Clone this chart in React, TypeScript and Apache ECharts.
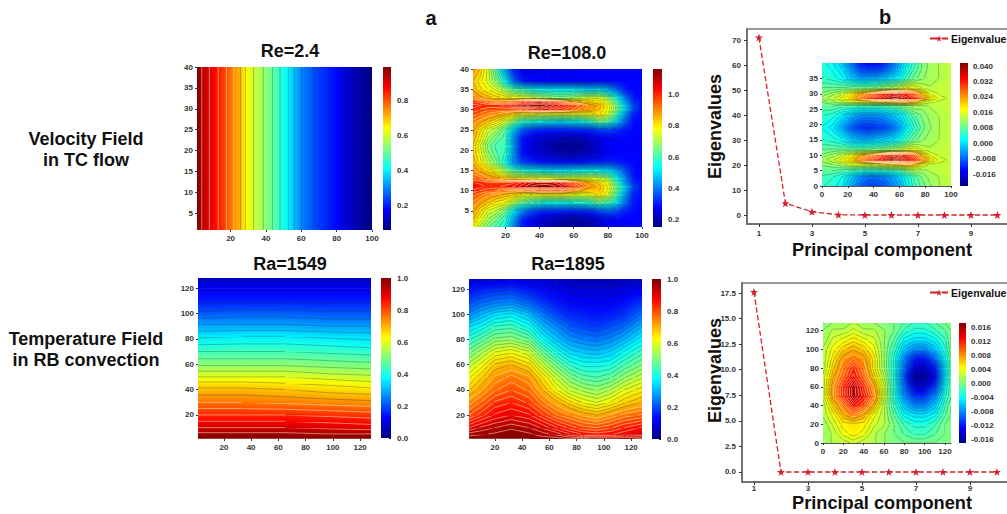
import React, { useEffect, useRef } from "react";
import * as echarts from "echarts";

const FONT = "'Liberation Sans', Arial, sans-serif";

// ---------- data ----------
const components = [1, 2, 3, 4, 5, 6, 7, 8, 9, 10];
const tcEigenvalues = [71, 4.7, 1.3, 0.1, 0, 0, 0, 0, 0, 0];
const rbEigenvalues = [17.6, 0, 0, 0, 0, 0, 0, 0, 0, 0];

const re24X = [1, 5, 11, 16, 21, 25, 29, 35, 42, 47, 52, 56, 61, 70, 80, 90, 100];
const re24Y = [1, 40];
const re24Profile = [99, 93, 87, 82, 76, 71, 64, 58, 52, 46, 41, 35, 29, 23, 18, 11, 6];
const re24Rows = [re24Profile, re24Profile];

const re108X = [1, 5, 10, 15, 20, 25, 30, 35, 40, 45, 50, 55, 60, 65, 70, 75, 80, 85, 90, 95, 100];
const re108Y = [1, 3, 5, 7, 9, 10, 11, 12, 13, 15, 17, 19, 21, 23, 25, 27, 29, 30, 31, 32, 33, 35, 37, 40];
const re108Rows = [
  [78, 72, 65, 60, 55, 42, 30, 27, 23, 21, 19, 17, 17, 18, 20, 23, 26, 27, 28, 28, 28],
  [85, 78, 70, 65, 58, 45, 32, 28, 25, 23, 21, 20, 19, 20, 22, 25, 27, 28, 28, 28, 28],
  [88, 82, 75, 72, 65, 52, 42, 36, 33, 32, 32, 31, 31, 32, 33, 36, 38, 36, 31, 29, 28],
  [92, 88, 84, 80, 78, 70, 64, 60, 56, 54, 54, 54, 56, 56, 58, 64, 60, 52, 40, 30, 29],
  [96, 94, 90, 88, 86, 84, 80, 78, 80, 80, 80, 80, 78, 76, 78, 82, 76, 62, 44, 31, 29],
  [100, 98, 96, 95, 92, 92, 92, 94, 96, 96, 96, 94, 90, 86, 84, 84, 78, 64, 48, 33, 29],
  [103, 102, 100, 100, 102, 104, 108, 112, 114, 114, 112, 108, 100, 94, 88, 86, 78, 66, 50, 35, 29],
  [101, 100, 98, 98, 98, 100, 104, 108, 110, 110, 108, 102, 94, 90, 86, 82, 76, 60, 44, 32, 29],
  [96, 94, 90, 88, 84, 82, 80, 80, 78, 78, 76, 76, 76, 76, 76, 74, 70, 56, 42, 30, 28],
  [90, 86, 82, 76, 68, 60, 56, 54, 52, 50, 50, 50, 52, 52, 54, 52, 50, 44, 36, 29, 28],
  [86, 80, 72, 65, 55, 42, 34, 32, 30, 29, 29, 29, 29, 29, 30, 31, 32, 31, 29, 28, 28],
  [84, 78, 68, 62, 58, 42, 29, 26, 24, 22, 21, 20, 20, 21, 23, 25, 27, 28, 28, 28, 28],
  [84, 76, 66, 60, 60, 44, 29, 25, 22, 20, 18, 17, 17, 18, 21, 24, 27, 28, 28, 28, 28],
  [86, 80, 70, 64, 60, 42, 30, 26, 24, 23, 22, 21, 21, 22, 24, 26, 27, 28, 28, 28, 28],
  [88, 82, 74, 70, 62, 48, 37, 33, 31, 31, 31, 31, 31, 31, 32, 34, 35, 33, 30, 28, 28],
  [91, 88, 84, 80, 74, 66, 58, 56, 54, 52, 50, 50, 52, 54, 58, 66, 62, 50, 38, 29, 28],
  [97, 95, 92, 90, 88, 84, 82, 82, 80, 80, 80, 80, 80, 80, 80, 82, 76, 62, 44, 31, 29],
  [100, 98, 96, 96, 96, 96, 98, 102, 106, 104, 100, 98, 94, 90, 88, 84, 78, 66, 50, 35, 29],
  [102, 101, 100, 100, 102, 106, 110, 114, 114, 112, 108, 104, 98, 94, 88, 86, 78, 66, 50, 35, 29],
  [98, 96, 92, 90, 92, 94, 100, 104, 106, 102, 98, 92, 86, 84, 82, 80, 74, 60, 44, 32, 29],
  [92, 88, 85, 82, 80, 78, 76, 74, 72, 68, 66, 66, 68, 72, 74, 74, 68, 54, 40, 30, 28],
  [86, 82, 78, 74, 68, 62, 58, 54, 52, 52, 52, 52, 52, 50, 48, 50, 44, 38, 30, 28, 28],
  [84, 80, 74, 66, 54, 38, 30, 28, 28, 27, 27, 27, 27, 27, 27, 27, 28, 28, 28, 28, 28],
  [88, 84, 74, 60, 44, 30, 25, 25, 25, 26, 26, 27, 27, 28, 28, 28, 28, 28, 28, 28, 28],
];

const ra1549X = [1, 33, 65, 97, 128];
const ra1549Y = [1, 5, 10, 15, 20, 30, 40, 45, 50, 60, 70, 82, 90, 100, 110, 120, 128];
const ra1549Rows = [
  [100, 100, 100, 100, 100],
  [97, 97, 97, 96, 96],
  [92, 92, 92, 91, 90],
  [88, 88, 88, 87, 86],
  [84, 84, 84, 83, 82],
  [76, 76, 75, 74, 73],
  [69, 69, 68, 66, 65],
  [65, 65, 64, 63, 61],
  [60, 60, 60, 58, 57],
  [51, 51, 51, 50, 49],
  [44, 44, 44, 43, 42],
  [35, 36, 36, 35, 34],
  [29, 29, 29, 28, 28],
  [21, 22, 22, 21, 21],
  [15, 15, 15, 15, 15],
  [11, 11, 11, 11, 11],
  [7, 7, 7, 7, 7],
];

const ra1895X = [1, 10, 20, 32, 45, 55, 65, 75, 85, 95, 105, 115, 128];
const ra1895Y = [1, 5, 10, 20, 30, 40, 50, 60, 70, 80, 90, 100, 110, 120, 128];
const ra1895Rows = [
  [100, 100, 100, 100, 100, 99, 99, 98, 98, 97, 97, 97, 98],
  [96, 97, 98, 99, 98, 96, 94, 90, 87, 86, 87, 89, 90],
  [90, 93, 95, 97, 95, 92, 88, 84, 81, 80, 82, 85, 88],
  [80, 84, 88, 90, 88, 83, 78, 75, 72, 70, 73, 76, 78],
  [74, 78, 83, 85, 82, 76, 71, 66, 62, 60, 63, 67, 70],
  [67, 72, 77, 80, 77, 70, 63, 57, 54, 52, 55, 60, 64],
  [62, 67, 73, 76, 73, 65, 57, 50, 46, 45, 47, 52, 57],
  [56, 61, 68, 70, 66, 57, 49, 42, 39, 39, 40, 45, 50],
  [49, 54, 60, 62, 58, 48, 40, 34, 32, 31, 33, 38, 44],
  [42, 46, 51, 52, 48, 38, 32, 27, 25, 24, 26, 30, 37],
  [35, 38, 43, 44, 39, 31, 26, 21, 19, 18, 20, 23, 30],
  [26, 30, 34, 36, 31, 24, 19, 16, 15, 14, 15, 17, 23],
  [19, 22, 24, 25, 21, 17, 14, 12, 12, 11, 12, 13, 17],
  [13, 15, 16, 17, 14, 12, 10, 9, 8, 8, 8, 9, 11],
  [8, 9, 9, 10, 9, 8, 7, 6, 5, 5, 5, 6, 7],
];

const tcModeX = [0, 8, 16, 24, 30, 36, 42, 48, 54, 60, 66, 72, 78, 84, 92, 100];
const tcModeY = [0, 3, 5, 7, 8.5, 10, 12, 15, 19, 23, 26, 27.5, 28.5, 30, 32, 35, 38, 40];
const tcModeRows = [
  [5, 4, 2, -4, -8, -10, -10, -9, -6, -3, 2, 6, 9, 11, 13, 14],
  [6, 5, 3, -2, -5, -7, -7, -6, -4, -1, 3, 7, 10, 12, 13, 14],
  [8, 8, 7, 6, 5, 4, 4, 5, 6, 7, 10, 13, 12, 13, 14, 14],
  [10, 11, 13, 16, 17, 17, 18, 20, 21, 22, 24, 22, 17, 14, 14, 14],
  [12, 14, 17, 21, 26, 30, 34, 36, 40, 40, 36, 32, 26, 19, 15, 14],
  [10, 12, 14, 18, 22, 25, 28, 32, 36, 34, 33, 28, 22, 16, 14, 14],
  [8, 8, 8, 8, 8, 8, 9, 10, 12, 13, 16, 17, 14, 13, 14, 14],
  [5, 4, 2, -2, -3, -3, -2, -1, 0, 2, 6, 9, 11, 12, 13, 14],
  [3, 1, -4, -9, -11, -12, -11, -10, -8, -4, 1, 5, 9, 11, 13, 14],
  [5, 4, 1, -3, -5, -5, -5, -4, -2, 0, 4, 8, 10, 12, 13, 14],
  [8, 8, 7, 7, 6, 6, 6, 7, 8, 9, 11, 13, 12, 13, 14, 14],
  [10, 12, 14, 17, 19, 20, 22, 24, 26, 27, 27, 24, 18, 15, 14, 14],
  [12, 14, 17, 21, 26, 30, 34, 37, 40, 40, 36, 33, 26, 19, 15, 14],
  [10, 12, 14, 19, 23, 26, 29, 33, 36, 35, 33, 28, 22, 16, 14, 14],
  [8, 8, 8, 9, 9, 9, 10, 12, 13, 15, 18, 17, 14, 13, 14, 14],
  [5, 4, 2, -2, -4, -4, -3, -2, 0, 2, 6, 9, 11, 12, 13, 14],
  [4, 3, 0, -6, -10, -11, -11, -9, -6, -2, 3, 7, 10, 12, 13, 14],
  [4, 2, -2, -8, -12, -14, -14, -12, -8, -3, 2, 6, 10, 12, 13, 14],
];

const rbModeX = [0, 10, 20, 30, 40, 50, 60, 70, 80, 90, 100, 110, 120, 126];
const rbModeY = [0, 10, 20, 30, 40, 50, 60, 70, 80, 90, 100, 110, 120, 128];
const rbModeRows = [
  [1, 2, 2, 3, 2, 2, 1, 0, 0, 0, 0, 0, 0, 0],
  [1, 2, 4, 5, 4, 2, 1, 0, -1, -2, -2, -1, 0, 0],
  [1, 3, 5, 5, 5, 3, 2, 0, -2, -3, -3, -2, 0, 0],
  [2, 4, 7, 9, 7, 4, 2, -1, -4, -5, -5, -4, -1, 0],
  [2, 6, 9, 13, 11, 7, 2, -2, -6, -8, -8, -6, -2, 0],
  [3, 8, 12, 16, 13, 9, 3, -3, -8, -11, -11, -8, -3, -1],
  [3, 8, 12, 16, 12, 8, 3, -3, -9, -14, -14, -11, -4, -1],
  [3, 7, 10, 13, 10, 6, 2, -3, -10, -16, -16, -13, -5, -1],
  [2, 6, 9, 12, 9, 5, 1, -3, -9, -14, -15, -12, -5, -1],
  [2, 5, 8, 9, 8, 5, 1, -3, -8, -12, -12, -9, -4, -1],
  [2, 4, 6, 7, 6, 4, 1, -2, -6, -8, -8, -6, -3, 0],
  [1, 3, 4, 5, 4, 3, 1, -1, -4, -5, -5, -4, -2, 0],
  [1, 2, 2, 3, 2, 2, 1, 0, -2, -3, -3, -2, -1, 0],
  [0, 1, 1, 2, 1, 1, 0, 0, -1, -2, -2, -1, 0, 0],
];

// tick labels
const xTicks100 = [20, 40, 60, 80, 100];
const xTicks120 = [20, 40, 60, 80, 100, 120];
const yTicksTc = [5, 10, 15, 20, 25, 30, 35, 40];
const barRe24 = [0.2, 0.4, 0.6, 0.8];
const barRe108 = [0.2, 0.4, 0.6, 0.8, 1.0];
const barRa = [0, 0.2, 0.4, 0.6, 0.8, 1.0];
const barTcMode = [-0.016, -0.008, 0, 0.008, 0.016, 0.024, 0.032, 0.04];
const barRbMode = [-0.016, -0.012, -0.008, -0.004, 0, 0.004, 0.008, 0.012, 0.016];

// ---------- colour ----------
const JET = [
  [0, 0, 127], [0, 0, 255], [0, 127, 255], [0, 255, 255], [127, 255, 127],
  [255, 255, 0], [255, 127, 0], [255, 0, 0], [127, 0, 0],
];
const jetHex = JET.map((c) => `rgb(${c.join(",")})`);
function jet(t: number) {
  const p = Math.max(0, Math.min(0.99999, t)) * (JET.length - 1);
  const i = Math.floor(p);
  const f = p - i;
  const c = JET[i].map((a, k) => Math.round(a + (JET[i + 1][k] - a) * f));
  return `rgb(${c.join(",")})`;
}

// ---------- option assembly ----------
const tickText = { fontFamily: FONT, fontSize: 8, fontWeight: "bold", color: "#333" };
const grids: any[] = [];
const xAxes: any[] = [];
const yAxes: any[] = [];
const series: any[] = [];

function addAxes(box: any, x: any, y: any) {
  grids.push({ ...box, containLabel: false, outerBoundsMode: "none" });
  const gridIndex = grids.length - 1;
  xAxes.push({ type: "value", gridIndex, splitLine: { show: false }, ...x });
  yAxes.push({ type: "value", gridIndex, splitLine: { show: false }, ...y });
  return gridIndex;
}

function addField(f: any) {
  const frame = f.frame
    ? { show: true, onZero: false, lineStyle: { color: "#555", width: 1 } }
    : { show: false, onZero: false };
  const gi = addAxes(
    f.box,
    {
      min: f.xRange[0], max: f.xRange[1], axisLine: frame,
      axisTick: { show: true, length: 2, customValues: f.xTicks, lineStyle: { color: "#333" } },
      axisLabel: { ...tickText, margin: 4, customValues: f.xTicks },
    },
    {
      min: f.yRange[0], max: f.yRange[1], axisLine: frame,
      axisTick: { show: true, length: 2, customValues: f.yTicks, lineStyle: { color: "#333" } },
      axisLabel: { ...tickText, margin: 4, customValues: f.yTicks },
    }
  );
  const [lo, hi] = f.range;
  const nx = f.xs.length;
  const ny = f.ys.length;
  const u = f.unit;
  const data: number[][] = [];
  f.ys.forEach((y: number, j: number) =>
    f.xs.forEach((x: number, i: number) => data.push([x, y, f.rows[j][i] * u]))
  );
  const norm = (v: number) => (v - lo) / (hi - lo);
  const renderItem = (params: any, api: any) => {
    const i = params.dataIndex % nx;
    const j = Math.floor(params.dataIndex / nx);
    if (i === nx - 1 || j === ny - 1) return undefined;
    const at = (a: number, b: number) => f.rows[b][a] * u;
    const v00 = at(i, j), v10 = at(i + 1, j), v01 = at(i, j + 1), v11 = at(i + 1, j + 1);
    const [px0, py0] = api.coord([f.xs[i], f.ys[j]]);
    const [px1, py1] = api.coord([f.xs[i + 1], f.ys[j + 1]]);
    const w = px1 - px0;
    const h = py0 - py1;
    const gx = ((v10 + v11) - (v00 + v01)) / 2 / w;
    const gy = ((v00 + v10) - (v01 + v11)) / 2 / h;
    const mag = Math.hypot(gx, gy);
    const vc = (v00 + v10 + v01 + v11) / 4;
    let fill: any = jet(norm(vc));
    if (mag > 1e-12) {
      const L = (Math.abs(gx) * w + Math.abs(gy) * h) / 2 / mag;
      const dx = gx / mag, dy = gy / mag;
      const cx = px0 + w / 2, cy = py1 + h / 2;
      fill = {
        type: "linear", global: true,
        x: cx - dx * L, y: cy - dy * L, x2: cx + dx * L, y2: cy + dy * L,
        colorStops: [
          { offset: 0, color: jet(norm(vc - mag * L)) },
          { offset: 0.5, color: jet(norm(vc)) },
          { offset: 1, color: jet(norm(vc + mag * L)) },
        ],
      };
    }
    const children: any[] = [
      { type: "rect", shape: { x: px0, y: py1, width: w + 0.7, height: h + 0.7 }, style: { fill } },
    ];
    // contour segments through this cell
    const first = Math.ceil(Math.min(v00, v10, v01, v11) / f.step);
    const last = Math.floor(Math.max(v00, v10, v01, v11) / f.step);
    for (let k = first; k <= last; k++) {
      const lv = k * f.step;
      const pts: number[][] = [];
      const cross = (a: number, b: number, ax: number, ay: number, bx: number, by: number) => {
        if ((a < lv) !== (b < lv)) {
          const r = (lv - a) / (b - a);
          pts.push([ax + (bx - ax) * r, ay + (by - ay) * r]);
        }
      };
      cross(v00, v10, px0, py0, px1, py0);
      cross(v10, v11, px1, py0, px1, py1);
      cross(v11, v01, px1, py1, px0, py1);
      cross(v01, v00, px0, py1, px0, py0);
      const stroke = norm(lv) > 0.72 ? "rgba(255,235,190,0.75)" : "rgba(0,50,50,0.42)";
      for (let q = 0; q + 1 < pts.length; q += 2) {
        children.push({
          type: "line",
          shape: { x1: pts[q][0], y1: pts[q][1], x2: pts[q + 1][0], y2: pts[q + 1][1] },
          style: { stroke, lineWidth: 0.7, fill: null },
        });
      }
    }
    return { type: "group", children };
  };
  series.push({
    type: "custom", name: f.name, xAxisIndex: gi, yAxisIndex: gi, data,
    encode: { x: 0, y: 1 }, clip: true, silent: true, renderItem,
  });

  // colour bar
  const b = addAxes(
    f.barBox,
    { min: 0, max: 1, show: false },
    {
      min: lo, max: hi, position: "right", axisLine: { show: false, onZero: false },
      axisTick: { show: true, inside: true, length: 2, customValues: f.barTicks, lineStyle: { color: "#222" } },
      axisLabel: {
        ...tickText, margin: f.barMargin ?? 6, customValues: f.barTicks,
        formatter: (v: number) => v.toFixed(f.barDigits),
      },
    }
  );
  series.push({
    type: "custom", name: f.name + " scale", xAxisIndex: b, yAxisIndex: b, silent: true, clip: false,
    data: [[0, lo, 1, hi]], encode: { x: [0, 2], y: [1, 3] },
    renderItem: (_: any, api: any) => {
      const [x0, y0] = api.coord([0, lo]);
      const [x1, y1] = api.coord([1, hi]);
      return {
        type: "rect",
        shape: { x: x0, y: y1, width: x1 - x0, height: y0 - y1 },
        style: {
          fill: {
            type: "linear", x: 0, y: 1, x2: 0, y2: 0,
            colorStops: jetHex.map((color, i) => ({ offset: i / (jetHex.length - 1), color })),
          },
        },
      };
    },
  });
}

function addScree(
  box: any, xr: number[], yr: number[], yTicks: number[], digits: number, values: number[],
  gap: number, nameGap: number, namePadding: number[], xLabelMargin: number
) {
  const axisStyle = { show: true, onZero: false, lineStyle: { color: "#666", width: 1.5 } };
  const gi = addAxes(
    { ...box, show: true, borderColor: "#777", borderWidth: 1.5, backgroundColor: "transparent" },
    {
      min: xr[0], max: xr[1], axisLine: axisStyle,
      axisTick: { show: true, length: 3, customValues: [1, 3, 5, 7, 9], lineStyle: { color: "#333" } },
      axisLabel: { ...tickText, margin: xLabelMargin, customValues: [1, 3, 5, 7, 9] },
      name: "Principal component", nameLocation: "middle", nameGap, nameMoveOverlap: false,
      nameTextStyle: { fontFamily: FONT, fontSize: 18.2, fontWeight: "bold", color: "#111" },
    },
    {
      min: yr[0], max: yr[1], axisLine: axisStyle,
      axisTick: { show: true, length: 3, customValues: yTicks, lineStyle: { color: "#333" } },
      axisLabel: { ...tickText, margin: 6, customValues: yTicks, formatter: (v: number) => v.toFixed(digits) },
      name: "Eigenvalues", nameLocation: "middle", nameGap: gap, nameMoveOverlap: false,
      nameTextStyle: { fontFamily: FONT, fontSize: 18, fontWeight: "bold", color: "#111", padding: namePadding },
    }
  );
  series.push({
    type: "line", name: "Eigenvalue", xAxisIndex: gi, yAxisIndex: gi,
    data: components.map((c, i) => [c, values[i]]),
    symbol: "path://M12 1 L15 9 L23.5 9 L16.6 14.2 L19.2 22.5 L12 17.5 L4.8 22.5 L7.4 14.2 L.5 9 L9 9 Z",
    symbolSize: 8, silent: true,
    lineStyle: { color: "#d4232c", width: 1.3, type: "dashed" },
    itemStyle: { color: "#d4232c" },
  });
}

// left to right, top to bottom
addField({
  name: "Re=2.4", xs: re24X, ys: re24Y, rows: re24Rows, unit: 0.01, range: [0.06, 0.99], step: 0.05,
  box: { left: 197, top: 67, width: 175, height: 163 }, xRange: [1, 100], yRange: [1, 40],
  xTicks: xTicks100, yTicks: yTicksTc,
  barBox: { left: 383, top: 67, width: 8, height: 163 }, barTicks: barRe24, barDigits: 1,
});
addField({
  name: "Re=108.0", xs: re108X, ys: re108Y, rows: re108Rows, unit: 0.01, range: [0.155, 1.16], step: 0.028,
  box: { left: 473, top: 69, width: 169, height: 158 }, xRange: [1, 100], yRange: [1, 40],
  xTicks: xTicks100, yTicks: yTicksTc,
  barBox: { left: 653, top: 69, width: 9, height: 158 }, barTicks: barRe108, barDigits: 1,
});
addField({
  name: "Ra=1549", xs: ra1549X, ys: ra1549Y, rows: ra1549Rows, unit: 0.01, range: [0, 1], step: 0.04,
  box: { left: 198, top: 278, width: 173, height: 161 }, xRange: [1, 128], yRange: [1, 128],
  xTicks: xTicks120, yTicks: xTicks120,
  barBox: { left: 381, top: 278, width: 10, height: 160 }, barTicks: barRa, barDigits: 1,
});
addField({
  name: "Ra=1895", xs: ra1895X, ys: ra1895Y, rows: ra1895Rows, unit: 0.01, range: [0, 1], step: 0.025,
  box: { left: 469, top: 279, width: 173, height: 160 }, xRange: [1, 128], yRange: [1, 128],
  xTicks: xTicks120, yTicks: xTicks120,
  barBox: { left: 652, top: 279, width: 9, height: 160 }, barTicks: barRa, barDigits: 1,
});
addScree({ left: 747, top: 29, width: 270, height: 195 }, [0.55, 10.74], [-3.6, 74.4], [0, 10, 20, 30, 40, 50, 60, 70], 0, tcEigenvalues, 23, 17, [0, 0, 0, 0], 5);
addScree({ left: 742, top: 283, width: 280, height: 199 }, [0.556, 10.93], [-0.98, 18.48], [0, 2.5, 5, 7.5, 10, 12.5, 15, 17.5], 1, rbEigenvalues, 18, 12, [0, 0, 0, 24], 2);
addField({
  name: "Eigenmode TC", xs: tcModeX, ys: tcModeY, rows: tcModeRows, unit: 0.001, range: [-0.0222, 0.0416], step: 0.0016,
  box: { left: 822, top: 63, width: 129, height: 123 }, xRange: [0, 100], yRange: [0, 40], frame: true,
  xTicks: [0, 20, 40, 60, 80, 100], yTicks: [0, 5, 10, 15, 20, 25, 30, 35],
  barBox: { left: 960, top: 63, width: 8, height: 123 }, barTicks: barTcMode, barDigits: 3, barMargin: 5,
});
addField({
  name: "Eigenmode RB", xs: rbModeX, ys: rbModeY, rows: rbModeRows, unit: 0.001, range: [-0.0169, 0.0172], step: 0.0009,
  box: { left: 823, top: 323, width: 128, height: 120 }, xRange: [0, 126], yRange: [0, 128], frame: true,
  xTicks: [0, 20, 40, 60, 80, 100, 120], yTicks: [0, 20, 40, 60, 80, 100, 120],
  barBox: { left: 959, top: 323, width: 7, height: 120 }, barTicks: barRbMode, barDigits: 3, barMargin: 5,
});

function label(text: string, cx: number, top: number, fontSize: number, lineHeight?: number) {
  return {
    text, left: cx, top, textAlign: "center", padding: 0,
    textStyle: { fontFamily: FONT, fontSize, fontWeight: "bold", color: "#111", lineHeight: lineHeight ?? fontSize + 2 },
  };
}

const titles = [
  label("a", 431, 7, 20),
  label("b", 885, 6, 20),
  label("Re=2.4", 290, 41, 18),
  label("Re=108.0", 567, 43, 18),
  label("Ra=1549", 290, 254, 18),
  label("Ra=1895", 568, 254, 18),
  label("Velocity Field\nin TC flow", 86, 128, 18, 21),
  label("Temperature Field\nin RB convection", 86, 328, 18, 21),
];

const legendBase = {
  data: ["Eigenvalue"], selectedMode: false, itemWidth: 18, itemHeight: 8, padding: 0,
  textStyle: { fontFamily: FONT, fontSize: 10.5, fontWeight: "bold", color: "#111", padding: [0, 0, 0, -2] },
};

const option = {
  animation: false,
  backgroundColor: "#fff",
  title: titles,
  legend: [
    { ...legendBase, left: 929, top: 33 },
    { ...legendBase, left: 929, top: 287 },
  ],
  grid: grids,
  xAxis: xAxes,
  yAxis: yAxes,
  series,
};

export default function App() {
  const ref = useRef<HTMLDivElement>(null);
  useEffect(() => {
    const chart = echarts.init(ref.current!, null, { renderer: "svg", width: 1007, height: 514 });
    chart.setOption(option as any);
    return () => chart.dispose();
  }, []);
  return (
    <div
      ref={ref}
      style={{ position: "fixed", left: 0, top: 0, width: 1007, height: 514, background: "#fff", overflow: "hidden" }}
    />
  );
}
